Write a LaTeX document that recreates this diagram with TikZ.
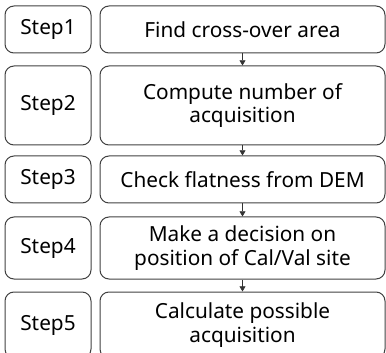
\documentclass[tikz,border=0pt]{standalone}
\usepackage{fontspec}
\setmainfont{Noto Sans}
\usetikzlibrary{arrows.meta,positioning}

\begin{document}
\begin{tikzpicture}[
  x=0.5pt, y=-0.5pt,
  lbl/.style={draw=black!75, line width=0.5pt, rounded corners=4.5pt, align=center, font=\fontsize{10.4}{11.8}\selectfont, minimum width=43pt, inner sep=0pt},
  task/.style={lbl, minimum width=142.5pt},
  arr/.style={-{Triangle[length=2.6pt,width=3pt]}, line width=0.4pt, draw=black!80}]
\useasboundingbox (0,0) rectangle (386,353);
% step labels
\node[lbl, minimum height=23.5pt] (s1) at (48,29.5) {Step1};
\node[lbl, minimum height=39.5pt] (s2) at (48,105.5) {Step2};
\node[lbl, minimum height=23.5pt] (s3) at (48,179.5) {Step3};
\node[lbl, minimum height=31pt] (s4) at (48,248) {Step4};
\node[lbl, minimum height=33pt] (s5) at (48,325) {Step5};
% tasks
\node[task, minimum height=23.5pt] (t1) at (242.5,29.5) {Find cross-over area};
\node[task, minimum height=39.5pt] (t2) at (242.5,105.5) {Compute number of\\acquisition};
\node[task, minimum height=23.5pt] (t3) at (242.5,179.5) {Check flatness from DEM};
\node[task, minimum height=31pt] (t4) at (242.5,248) {Make a decision on\\position of Cal/Val site};
\node[task, minimum height=33pt] (t5) at (242.5,325) {Calculate possible\\acquisition};
\draw[arr] (t1) -- (t2); \draw[arr] (t2) -- (t3); \draw[arr] (t3) -- (t4); \draw[arr] (t4) -- (t5);
\end{tikzpicture}
\end{document}
